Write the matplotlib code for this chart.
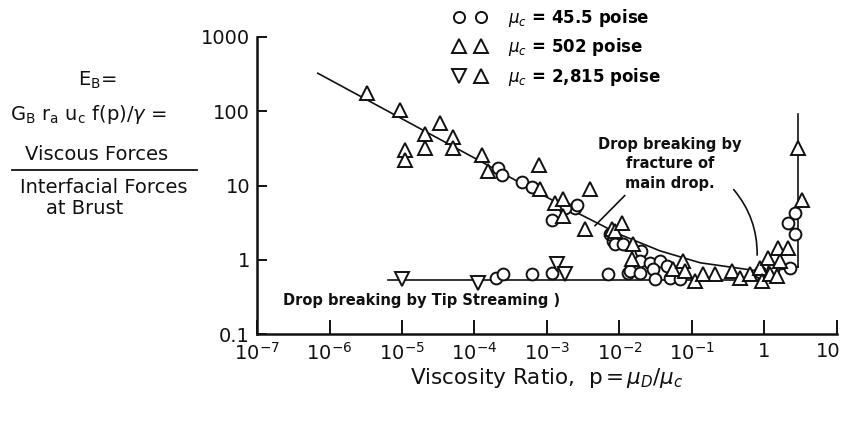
import matplotlib
matplotlib.use('Agg')
import matplotlib.pyplot as plt
import matplotlib.transforms as mtransforms
from matplotlib.lines import Line2D
from matplotlib.legend_handler import HandlerTuple

# data (p = viscosity ratio, E_B = capillary number at burst)

# mu_c = 45.5 poise (circles)
p_circ = [2.0e-4, 2.45e-4, 6.2e-4, 1.17e-3, 6.9e-3, 1.31e-2,
          2.1e-4, 2.4e-4, 4.5e-4, 6.2e-4, 2.4e-3, 1.17e-3, 1.78e-3, 2.6e-3,
          8.1e-3, 7.4e-3, 8.7e-3, 1.12e-2, 2.0e-2, 1.9e-2, 2.6e-2, 3.6e-2,
          1.39e-2, 1.9e-2, 2.9e-2, 4.5e-2, 3.1e-2, 5.0e-2, 6.8e-2,
          0.87, 1.3, 2.6, 2.1, 2.6, 2.25]
E_circ = [0.57, 0.65, 0.65, 0.67, 0.65, 0.67,
          17, 13.7, 11, 9.4, 5.0, 3.4, 5.0, 5.4,
          1.8, 2.24, 1.65, 1.65, 1.32, 0.97, 0.91, 0.97,
          0.71, 0.67, 0.76, 0.83, 0.55, 0.57, 0.55,
          0.68, 0.75, 4.2, 3.1, 2.24, 0.78]

# mu_c = 502 poise (triangles)
p_tri = [3.3e-6, 9.4e-6, 3.3e-5, 2.1e-5, 2.1e-5, 1.1e-5, 1.1e-5, 5.0e-5, 5.0e-5,
         1.26e-4, 1.54e-4, 7.8e-4, 8.0e-4, 1.29e-3, 1.66e-3, 1.66e-3, 3.9e-3,
         3.3e-3, 7.9e-3, 8.7e-3, 1.08e-2, 1.54e-2, 1.49e-2, 5.5e-2, 7.5e-2,
         8.0e-2, 0.11, 0.21, 0.142, 0.36, 0.46, 0.63, 0.87, 0.93, 1.19, 1.48,
         1.12, 1.64, 1.53, 2.1, 2.9, 3.3]
E_tri = [175, 103, 69, 50, 32, 30, 22, 45, 32,
         25.5, 15.8, 18.7, 9.1, 5.9, 6.6, 3.9, 9.1,
         2.6, 2.6, 2.45, 3.1, 1.65, 1.03, 0.76, 0.97,
         0.71, 0.52, 0.65, 0.65, 0.71, 0.57, 0.65, 0.78, 0.52, 0.65, 0.61,
         1.06, 0.97, 1.45, 1.45, 32, 6.3]

# mu_c = 2,815 poise (inverted triangles)
p_dn = [1.0e-5, 1.12e-4, 1.38e-3, 1.78e-3]
E_dn = [0.55, 0.49, 0.88, 0.65]

# hand drawn curves
p_fit = [6.9e-7, 1.2e-3, 1.0e-2, 3.6e-2, 0.13, 0.87, 2.24, 2.9]
E_fit = [325, 6.3, 2.2, 1.32, 0.91, 0.70, 0.76, 0.80]
p_rise = [2.9, 2.9]
E_rise = [0.80, 93]
p_tip = [6.4e-6, 1.48]
E_tip = [0.54, 0.54]

x_ticks = [1e-7, 1e-6, 1e-5, 1e-4, 1e-3, 1e-2, 1e-1, 1, 10]
x_labels = ['$10^{-7}$', '$10^{-6}$', '$10^{-5}$', '$10^{-4}$', '$10^{-3}$',
            '$10^{-2}$', '$10^{-1}$', '1', '10']
y_ticks = [0.1, 1, 10, 100, 1000]
y_labels = ['0.1', '1', '10', '100', '1000']

plt.rcParams['font.family'] = ['DejaVu Sans']
ink = '#111111'

fig = plt.figure(figsize=(8.45, 4.21), dpi=100)
ax = fig.add_axes([257 / 845, 87 / 421, 580 / 845, 297 / 421])

ax.plot(p_fit, E_fit, color=ink, lw=1.2)
ax.plot(p_rise, E_rise, color=ink, lw=1.2)
ax.plot(p_tip, E_tip, color=ink, lw=1.2)

mk = dict(ls='none', mfc='white', mec=ink, mew=1.4)
ax.plot(p_circ, E_circ, marker='o', ms=8.5, **mk)
ax.plot(p_tri, E_tri, marker='^', ms=10, **mk)
ax.plot(p_dn, E_dn, marker='v', ms=10, **mk)

ax.set_xscale('log')
ax.set_yscale('log')
ax.set_xlim(1e-7, 10)
ax.set_ylim(0.1, 1000)
ax.set_xticks(x_ticks)
ax.set_xticklabels(x_labels)
ax.set_yticks(y_ticks)
ax.set_yticklabels(y_labels)
ax.minorticks_off()

for s in ['top', 'right']:
    ax.spines[s].set_visible(False)
for s in ['left', 'bottom']:
    ax.spines[s].set_linewidth(1.8)
    ax.spines[s].set_color(ink)
ax.tick_params(axis='x', direction='in', length=10, width=1.4, pad=6,
               labelsize=14, colors=ink)
ax.tick_params(axis='y', direction='in', length=7, width=1.4, pad=5,
               labelsize=14, colors=ink)

# last x label sits on the right edge of the page, nudge it inside
last = ax.get_xticklabels()[-1]
last.set_transform(last.get_transform() +
                   mtransforms.ScaledTranslation(-9 / 100, 0, fig.dpi_scale_trans))

ax.set_xlabel(r'Viscosity Ratio,  p$\,$=$\,\mu_D/\mu_c$', fontsize=15.5,
              color=ink, labelpad=1)

# annotations
ax.text(2.3e-7, 0.28, 'Drop breaking by Tip Streaming )', fontsize=10.5,
        fontweight='bold', va='center', ha='left', color=ink)
ax.text(0.05, 19.5, 'Drop breaking by\nfracture of\nmain drop.', fontsize=10.5,
        fontweight='bold', ha='center', va='center', linespacing=1.35, color=ink)
ax.annotate('', xy=(4.3e-3, 2.7), xytext=(1.26e-2, 7.8),
            arrowprops=dict(arrowstyle='-', lw=1.2, color=ink))
ax.annotate('', xy=(0.79, 1.06), xytext=(0.355, 9.4),
            arrowprops=dict(arrowstyle='-', lw=1.2, color=ink,
                            connectionstyle='arc3,rad=-0.2'))

# legend
h_circ = Line2D([], [], marker='o', ms=8, **mk)
h_tri = Line2D([], [], marker='^', ms=9.5, **mk)
h_dn = Line2D([], [], marker='v', ms=9.5, **mk)
fig.legend([(h_circ, h_circ), (h_tri, h_tri), (h_dn, h_tri)],
           [r'$\mu_c$ = 45.5 poise', r'$\mu_c$ = 502 poise', r'$\mu_c$ = 2,815 poise'],
           handler_map={tuple: HandlerTuple(ndivide=None, pad=0.4)},
           loc='upper left', bbox_to_anchor=(440 / 845, 1 + 5 / 421),
           frameon=False, borderpad=0.2, handlelength=2.2, handletextpad=1.2,
           labelspacing=0.45, prop={'size': 12, 'weight': 'bold'})

# y axis label block on the left
def ftext(x, y, s, **kw):
    fig.text(x / 845, 1 - y / 421, s, ha='center', va='center',
             fontsize=14, color=ink, **kw)

ftext(97, 80, r'E$_\mathrm{B}$=')
ftext(88, 115, r'G$_\mathrm{B}$ r$_\mathrm{a}$ u$_\mathrm{c}$ f(p)/$\gamma$ =')
ftext(97, 155, 'Viscous Forces')
ftext(104, 188, 'Interfacial Forces')
ftext(85, 209, 'at Brust')
fig.add_artist(Line2D([12 / 845, 197 / 845], [1 - 170 / 421, 1 - 170 / 421],
                      transform=fig.transFigure, color=ink, lw=1.3))

fig.savefig('out.png', dpi=100)
